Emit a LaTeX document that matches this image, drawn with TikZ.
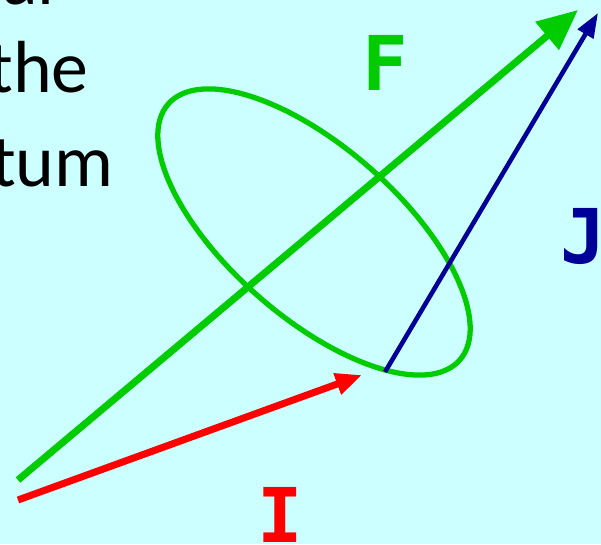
\documentclass[tikz,border=0pt]{standalone}
\usepackage{fontspec}
\setmainfont{Carlito}
\newfontfamily\letterfont{DejaVu Sans Mono}
\usetikzlibrary{arrows.meta}
\definecolor{bgcyan}{HTML}{CCFFFF}
\definecolor{vgreen}{HTML}{00CC00}
\definecolor{vred}{HTML}{FF0000}
\definecolor{vblue}{HTML}{000099}
\tikzset{
  vlabel/.style={font=\letterfont\bfseries\fontsize{43}{48}\selectfont},
  bodytext/.style={anchor=base east, inner sep=0pt, font=\fontsize{42}{48}\selectfont}
}
\begin{document}
\begin{tikzpicture}[x=0.02cm, y=0.02cm]
                    % Background
                    \fill[bgcyan] (0,0) rectangle (601,544);
                    \useasboundingbox (0,0) rectangle (601,544);
                    % Text
                    \node[bodytext] (al) at (55,539) {al};
                    \node[bodytext] (the) at (89,451) {the};
                    \node[bodytext] (tum) at (114,357) {tum};
                    % Points
                    \coordinate (fstart) at (18,64);
                    \coordinate (ftip) at (578,534);
                    \coordinate (istart) at (18,44);
                    \coordinate (itip) at (362,169);
                    \coordinate (jtip) at (598,531);
                    % Ellipse
                    \draw[vgreen, line width=3pt, rotate around={-41.3:(314,312)}] (314,312) ellipse (194 and 85);
                    % Vectors
                    \draw[vgreen, line width=4pt, -{Triangle[length=23pt, width=20pt]}] (fstart) -- (ftip);
                    \draw[vred, line width=4pt, -{Triangle[length=15pt, width=12pt]}] (istart) -- (itip);
                    \draw[vblue, line width=2.6pt, -{Triangle[length=14pt, width=10pt]}] (385,172) -- (jtip);
                    % Labels
                    \node[vlabel, text=vgreen] (F) at (385,481) {F};
                    \node[vlabel, text=vblue] (J) at (583,307) {J};
                    \node[vlabel, text=vred] (I) at (280,29) {I};
\end{tikzpicture}
\end{document}
